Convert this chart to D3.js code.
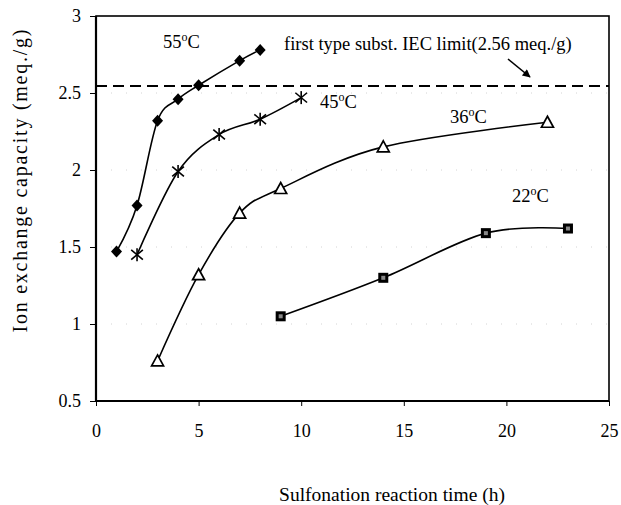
<!DOCTYPE html>
<html>
<head>
<meta charset="utf-8">
<script src="https://cdn.jsdelivr.net/npm/d3@7"></script>
<style>
  html, body { margin: 0; padding: 0; background: #fff; }
  svg { display: block; }
  text { font-family: "Liberation Serif", "DejaVu Serif", serif; fill: #000; }
</style>
</head>
<body>
<svg id="chart" width="621" height="505"></svg>
<script>
// ---- data ----
const hours55 = [1, 2, 3, 4, 5, 7, 8];
const iec55   = [1.47, 1.77, 2.32, 2.46, 2.55, 2.71, 2.78];
const hours45 = [2, 4, 6, 8, 10];
const iec45   = [1.45, 1.99, 2.23, 2.33, 2.47];
const hours36 = [3, 5, 7, 9, 14, 22];
const iec36   = [0.76, 1.32, 1.72, 1.88, 2.15, 2.31];
const hours22 = [9, 14, 19, 23];
const iec22   = [1.05, 1.30, 1.59, 1.62];
const seriesNames = ["55°C", "45°C", "36°C", "22°C"];
const xTicks = [0, 5, 10, 15, 20, 25];
const yTicks = [0.5, 1, 1.5, 2, 2.5, 3];
const yTickLabels = ["0.5", "1", "1.5", "2", "2.5", "3"];
const limitValue = 2.545;
const limitLabel = "first type subst. IEC limit(2.56 meq./g)";
const xTitle = "Sulfonation reaction time (h)";
const yTitle = "Ion exchange capacity (meq./g)";

// ---- layout ----
const svg = d3.select("#chart");
const L = 96, R = 609, T = 16, B = 401;
const x = d3.scaleLinear().domain([0, 25]).range([L, R]);
const y = d3.scaleLinear().domain([0.5, 3]).range([B, T]);
const serif = "'Liberation Serif', 'DejaVu Serif', serif";

svg.append("rect").attr("width", 621).attr("height", 505).attr("fill", "#fff");

// faint dotted gridlines
svg.append("g").selectAll("line").data(yTicks.slice(1, -1)).join("line")
  .attr("x1", L).attr("x2", R).attr("y1", d => y(d)).attr("y2", d => y(d))
  .attr("stroke", "#d4d4d4").attr("stroke-width", 1).attr("stroke-dasharray", "1,14");

// axes
const xAxis = d3.axisBottom(x).tickValues(xTicks).tickSize(5).tickPadding(18).tickFormat(d3.format("d"));
const yAxis = d3.axisLeft(y).tickValues(yTicks).tickSize(6).tickPadding(9).tickFormat((d, i) => yTickLabels[i]);

const gx = svg.append("g").attr("transform", `translate(0,${B})`).call(xAxis);
const gy = svg.append("g").attr("transform", `translate(${L},0)`).call(yAxis);
[gx, gy].forEach(g => {
  g.attr("font-family", serif).attr("font-size", 18);
  g.select(".domain").remove();
  g.selectAll(".tick line").attr("stroke", "#000").attr("stroke-width", 1);
  g.selectAll(".tick text").attr("font-family", serif).style("font-family", serif).style("font-size", "18px").attr("fill", "#000");
});

// frame
svg.append("rect").attr("x", L).attr("y", T).attr("width", R - L).attr("height", B - T)
  .attr("fill", "none").attr("stroke", "#000").attr("stroke-width", 1.6);
svg.append("line").attr("x1", L).attr("x2", L).attr("y1", T).attr("y2", B).attr("stroke", "#000").attr("stroke-width", 2.2);
svg.append("line").attr("x1", L).attr("x2", R).attr("y1", B).attr("y2", B).attr("stroke", "#000").attr("stroke-width", 2.2);

// limit dashed line
svg.append("line").attr("x1", L).attr("x2", R).attr("y1", y(limitValue)).attr("y2", y(limitValue))
  .attr("stroke", "#000").attr("stroke-width", 2).attr("stroke-dasharray", "11,6");

// series
const series = [
  { h: hours55, v: iec55, sym: "diamond" },
  { h: hours45, v: iec45, sym: "star" },
  { h: hours36, v: iec36, sym: "triangle" },
  { h: hours22, v: iec22, sym: "square" }
];
const line = d3.line().x(d => x(d[0])).y(d => y(d[1])).curve(d3.curveCardinal.tension(0));

series.forEach(s => {
  const pts = s.h.map((h, i) => [h, s.v[i]]);
  svg.append("path").datum(pts).attr("d", line)
    .attr("fill", "none").attr("stroke", "#000").attr("stroke-width", 1.6);
  const g = svg.append("g");
  pts.forEach(p => {
    const cx = x(p[0]), cy = y(p[1]);
    if (s.sym === "diamond") {
      g.append("path").attr("transform", `translate(${cx},${cy})`)
        .attr("d", "M0,-6L5.5,0L0,6L-5.5,0Z").attr("fill", "#000");
    } else if (s.sym === "star") {
      const r = 6.5;
      const sg = g.append("g").attr("transform", `translate(${cx},${cy})`)
        .attr("stroke", "#000").attr("stroke-width", 1.6);
      sg.append("line").attr("x1", 0).attr("x2", 0).attr("y1", -r).attr("y2", r);
      sg.append("line").attr("x1", -r * 0.9).attr("x2", r * 0.9).attr("y1", -r * 0.75).attr("y2", r * 0.75);
      sg.append("line").attr("x1", -r * 0.9).attr("x2", r * 0.9).attr("y1", r * 0.75).attr("y2", -r * 0.75);
    } else if (s.sym === "triangle") {
      g.append("path").attr("transform", `translate(${cx},${cy})`)
        .attr("d", "M0,-6L6,5L-6,5Z").attr("fill", "#fff").attr("stroke", "#000").attr("stroke-width", 1.7);
    } else {
      g.append("rect").attr("x", cx - 5).attr("y", cy - 5).attr("width", 10).attr("height", 10).attr("fill", "#000");
      g.append("rect").attr("x", cx - 2).attr("y", cy - 2).attr("width", 4).attr("height", 4).attr("fill", "#888");
    }
  });
});

// annotations
const annoFont = "18.5px";
const labelPos = [[163, 48], [320, 108], [450, 123], [512, 202]];
seriesNames.forEach((n, i) => {
  const t = svg.append("text").attr("x", labelPos[i][0]).attr("y", labelPos[i][1]).style("font-size", annoFont);
  const m = n.match(/^(\d+)°(C)$/);
  t.append("tspan").text(m[1]);
  t.append("tspan").attr("dy", -7).style("font-size", "12px").text("o");
  t.append("tspan").attr("dy", 7).text(m[2]);
});
svg.append("text").attr("x", 284).attr("y", 50).style("font-size", annoFont).text(limitLabel);

// arrow
svg.append("defs").append("marker").attr("id", "ah").attr("viewBox", "0 0 10 10")
  .attr("refX", 9).attr("refY", 5).attr("markerWidth", 10).attr("markerHeight", 8)
  .attr("markerUnits", "userSpaceOnUse").attr("orient", "auto")
  .append("path").attr("d", "M0,0L10,5L0,10Z").attr("fill", "#000");
svg.append("line").attr("x1", 508).attr("y1", 59).attr("x2", 530).attr("y2", 77)
  .attr("stroke", "#000").attr("stroke-width", 1.6).attr("marker-end", "url(#ah)");

// axis titles
svg.append("text").attr("x", 392).attr("y", 501).attr("text-anchor", "middle").style("font-size", "19.5px").text(xTitle);
svg.append("text").attr("transform", "translate(27,181) rotate(-90)").attr("text-anchor", "middle")
  .attr("textLength", 303).attr("lengthAdjust", "spacing")
  .style("font-size", "20px").text(yTitle);
</script>
</body>
</html>
